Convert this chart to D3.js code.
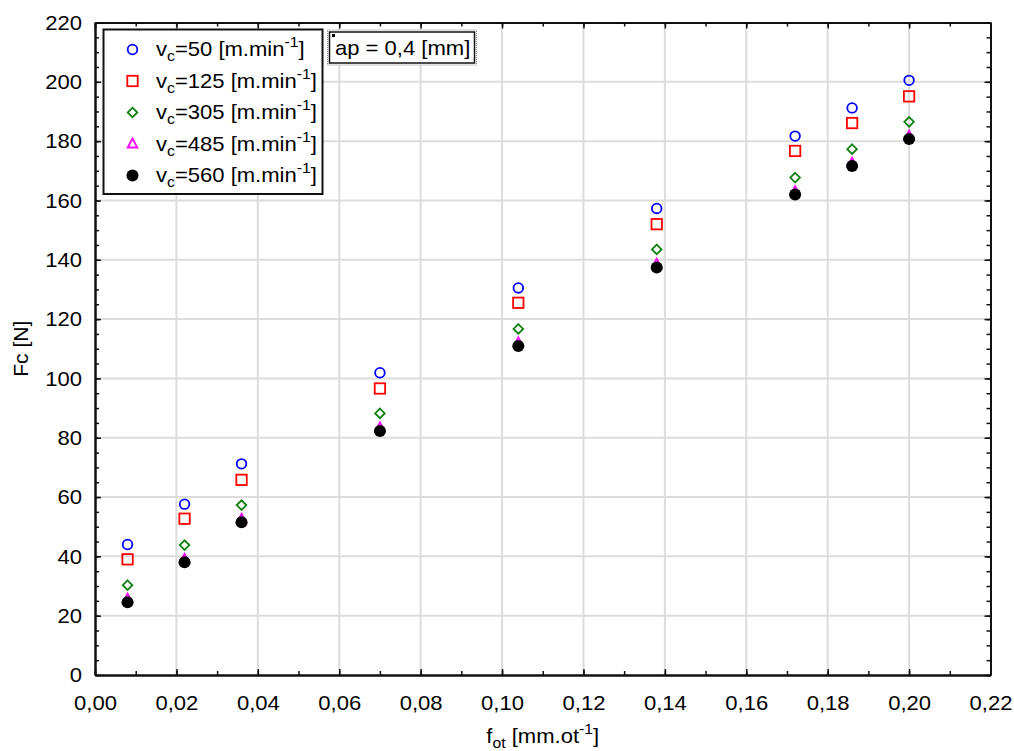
<!DOCTYPE html>
<html><head><meta charset="utf-8">
<script src="https://cdn.jsdelivr.net/npm/d3@7"></script>
<style>body{margin:0;background:#fff}svg{display:block;font-family:Arial,"Liberation Sans",sans-serif}</style>
</head><body><svg id="c" width="1014" height="751"></svg>
<script>
const fot = [0.008, 0.022, 0.036, 0.070, 0.104, 0.138, 0.172, 0.186, 0.200];
const fc50  = [44.0, 57.6, 71.2, 101.9, 130.5, 157.3, 181.7, 191.2, 200.5];
const fc125 = [39.0, 52.7, 65.8, 96.6, 125.5, 152.0, 176.7, 186.1, 195.1];
const fc305 = [30.3, 43.8, 57.3, 88.2, 116.7, 143.5, 167.7, 177.3, 186.5];
const fc485 = [25.6, 39.0, 52.5, 83.3, 112.0, 138.5, 163.0, 172.6, 181.7];
const fc560 = [24.5, 38.0, 51.5, 82.3, 110.9, 137.4, 162.0, 171.6, 180.7];
const speeds = ["50", "125", "305", "485", "560"];
const xTicks = [0,0.02,0.04,0.06,0.08,0.10,0.12,0.14,0.16,0.18,0.20,0.22];
const yTicks = [0,20,40,60,80,100,120,140,160,180,200,220];

const svg = d3.select("#c");
const L=95, R=990.5, T=22.5, B=675;
const FS = 21, SS = 15, SX = 1.05;
const x = d3.scaleLinear().domain([0,0.22]).range([L,R]);
const y = d3.scaleLinear().domain([0,220]).range([B,T]);
const fmtX = d => d.toFixed(2).replace(".", ",");

// grid
const g = svg.append("g");
g.selectAll(".gx").data(xTicks.slice(1,-1)).enter().append("line")
  .attr("x1",d=>x(d)).attr("x2",d=>x(d)).attr("y1",T).attr("y2",B)
  .attr("stroke","#dcdcdc").attr("stroke-width",2);
g.selectAll(".gy").data(yTicks.slice(1,-1)).enter().append("line")
  .attr("y1",d=>y(d)).attr("y2",d=>y(d)).attr("x1",L).attr("x2",R)
  .attr("stroke","#dcdcdc").attr("stroke-width",2);

// axes (ticks inward)
const xMinor = d3.range(0,0.2201,0.01);
const yMinor = d3.range(0,220.1,5);
function styleAxis(sel){
  sel.select(".domain").attr("stroke","#111").attr("stroke-width",2);
  sel.selectAll(".tick line").attr("stroke","#111").attr("stroke-width",1.5);
  sel.selectAll("text").attr("font-size",FS).attr("fill","#000").attr("font-family","Arial, 'Liberation Sans', sans-serif");
}
const axB = svg.append("g").attr("transform",`translate(0,${B})`)
  .call(d3.axisBottom(x).tickValues(xTicks).tickFormat(fmtX).tickSizeInner(-6).tickSizeOuter(0).tickPadding(15));
styleAxis(axB);
axB.selectAll("text").attr("dy","0.95em").attr("transform",`scale(${SX},1)`);
const axBm = svg.append("g").attr("transform",`translate(0,${B})`)
  .call(d3.axisBottom(x).tickValues(xMinor).tickFormat("").tickSizeInner(-4).tickSizeOuter(0));
styleAxis(axBm);
const axT = svg.append("g").attr("transform",`translate(0,${T})`)
  .call(d3.axisTop(x).tickValues(xTicks).tickFormat("").tickSizeInner(-6).tickSizeOuter(0));
styleAxis(axT);
const axTm = svg.append("g").attr("transform",`translate(0,${T})`)
  .call(d3.axisTop(x).tickValues(xMinor).tickFormat("").tickSizeInner(-4).tickSizeOuter(0));
styleAxis(axTm);
const axL = svg.append("g").attr("transform",`translate(${L},0)`)
  .call(d3.axisLeft(y).tickValues(yTicks).tickFormat(d=>d).tickSizeInner(-6).tickSizeOuter(0).tickPadding(13));
styleAxis(axL);
axL.selectAll("text").attr("x",-13/SX).attr("transform",`scale(${SX},1)`);
const axLm = svg.append("g").attr("transform",`translate(${L},0)`)
  .call(d3.axisLeft(y).tickValues(yMinor).tickFormat("").tickSizeInner(-4).tickSizeOuter(0));
styleAxis(axLm);
const axR = svg.append("g").attr("transform",`translate(${R},0)`)
  .call(d3.axisRight(y).tickValues(yTicks).tickFormat("").tickSizeInner(-6).tickSizeOuter(0));
styleAxis(axR);
const axRm = svg.append("g").attr("transform",`translate(${R},0)`)
  .call(d3.axisRight(y).tickValues(yMinor).tickFormat("").tickSizeInner(-4).tickSizeOuter(0));
styleAxis(axRm);

// series
const series = [
  {vals:fc50,  type:"circle",  color:"#0000ff"},
  {vals:fc125, type:"square",  color:"#ff0000"},
  {vals:fc305, type:"diamond", color:"#108010"},
  {vals:fc485, type:"triangle",color:"#ff00ff"},
  {vals:fc560, type:"dot",     color:"#000000"}
];
function drawMarker(sel, s, cx, cy){
  if(s.type==="circle") sel.append("circle").attr("cx",cx).attr("cy",cy).attr("r",4.8)
      .attr("fill","none").attr("stroke",s.color).attr("stroke-width",1.8);
  else if(s.type==="square") sel.append("rect").attr("x",cx-5.2).attr("y",cy-5.2).attr("width",10.4).attr("height",10.4)
      .attr("fill","none").attr("stroke",s.color).attr("stroke-width",1.8);
  else if(s.type==="diamond") sel.append("path").attr("d",`M${cx},${cy-4.8}L${cx+4.8},${cy}L${cx},${cy+4.8}L${cx-4.8},${cy}Z`)
      .attr("fill","none").attr("stroke",s.color).attr("stroke-width",1.8);
  else if(s.type==="triangle") sel.append("path").attr("d",`M${cx},${cy-5.5}L${cx+4.8},${cy+3.5}L${cx-4.8},${cy+3.5}Z`)
      .attr("fill","none").attr("stroke",s.color).attr("stroke-width",1.8);
  else sel.append("circle").attr("cx",cx).attr("cy",cy).attr("r",6).attr("fill","#000");
}
const pts = svg.append("g");
series.forEach(s=>{
  s.vals.forEach((v,i)=>drawMarker(pts, s, x(fot[i]), y(v)));
});

// legend
const lg = svg.append("g");
lg.append("rect").attr("x",103.5).attr("y",29.5).attr("width",219).attr("height",164.5)
  .attr("fill","#fff").attr("stroke","#111").attr("stroke-width",2);
const rowY = [49.5, 81, 112.5, 144, 175.5];
series.forEach((s,i)=>{
  drawMarker(lg, s, 132.5, rowY[i]);
  const t = lg.append("text").attr("x",156/SX).attr("y",rowY[i]+7).attr("font-size",FS).attr("fill","#000")
    .attr("transform",`scale(${SX},1)`);
  t.append("tspan").text("v");
  t.append("tspan").attr("font-size",SS).attr("dy",5).text("c");
  t.append("tspan").attr("dy",-5).text("=" + speeds[i] + " [m.min");
  t.append("tspan").attr("font-size",SS).attr("dy",-9).text("-1");
  t.append("tspan").attr("dy",9).text("]");
});

// annotation
const an = svg.append("g");
an.append("rect").attr("x",327.5).attr("y",30).attr("width",149).attr("height",35)
  .attr("fill","#fff").attr("stroke","#888").attr("stroke-width",1).attr("stroke-dasharray","1,1");
an.append("rect").attr("x",329.5).attr("y",32).attr("width",145).attr("height",31)
  .attr("fill","none").attr("stroke","#111").attr("stroke-width",1.5);
an.append("rect").attr("x",332).attr("y",34).attr("width",3).attr("height",3).attr("fill","#000");
an.append("text").attr("x",335/SX).attr("y",55).attr("font-size",FS).attr("fill","#000")
  .attr("transform",`scale(${SX},1)`).text("ap = 0,4 [mm]");

// axis titles
const xt = svg.append("text").attr("x",(L+R)/2/SX).attr("y",743).attr("text-anchor","middle").attr("font-size",FS).attr("fill","#000")
  .attr("transform",`scale(${SX},1)`);
xt.append("tspan").text("f");
xt.append("tspan").attr("font-size",SS).attr("dy",5).text("ot");
xt.append("tspan").attr("dy",-5).text(" [mm.ot");
xt.append("tspan").attr("font-size",SS).attr("dy",-9).text("-1");
xt.append("tspan").attr("dy",9).text("]");
svg.append("text").attr("transform",`translate(28,${(T+B)/2}) rotate(-90)`).attr("text-anchor","middle")
  .attr("font-size",FS).attr("fill","#000").text("Fc [N]");
</script></body></html>
